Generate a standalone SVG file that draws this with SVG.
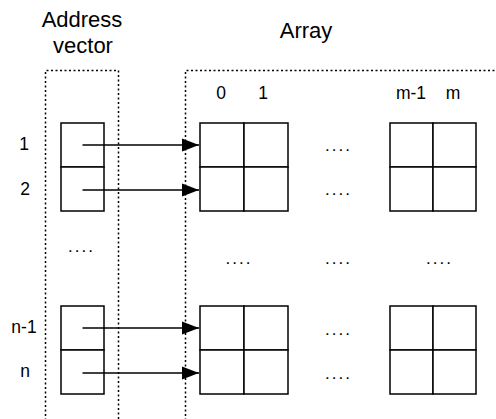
<svg xmlns="http://www.w3.org/2000/svg" width="496" height="419" viewBox="0 0 496 419">
<defs>
<style>
.t{font-family:"Liberation Sans",Arial,sans-serif;fill:#000;text-anchor:middle}
.h{font-size:22px}
.l{font-size:17.5px}
.e{font-family:"Liberation Sans",Arial,sans-serif;font-size:17px;letter-spacing:2px;fill:#000}
.cell{fill:#fff;stroke:#000;stroke-width:1.5}
.dot{fill:none;stroke:#000;stroke-width:1.5;stroke-dasharray:2 2.5}
.arr{stroke:#000;stroke-width:1.5;fill:none;marker-end:url(#ah)}
</style>
<marker id="ah" markerWidth="18" markerHeight="14" refX="17" refY="7" orient="auto" markerUnits="userSpaceOnUse">
<path d="M0,0.5 L17,7 L0,13.5 Z" fill="#000"/>
</marker>
</defs>
<rect width="496" height="419" fill="#fff"/>
<g id="titles">
<text class="t h" x="82" y="27">Address</text>
<text class="t h" x="83" y="53">vector</text>
<text class="t h" x="306" y="38">Array</text>
</g>
<g id="address-vector-frame">
<path class="dot" d="M45.5,425 V70.5 H118.5 V425"/>
</g>
<g id="array-frame">
<path class="dot" d="M185.5,425 V70.5 H500"/>
</g>
<g id="col-labels">
<text class="t l" x="221" y="99">0</text>
<text class="t l" x="263" y="99">1</text>
<text class="t l" x="411" y="99">m-1</text>
<text class="t l" x="453" y="99">m</text>
</g>
<g id="row-labels">
<text class="t l" x="24" y="150">1</text>
<text class="t l" x="25" y="195">2</text>
<text class="t l" x="24" y="333">n-1</text>
<text class="t l" x="25" y="377">n</text>
</g>
<g id="addr-top">
<rect class="cell" x="61" y="123" width="43" height="44"/>
<rect class="cell" x="61" y="167" width="43" height="44"/>
</g>
<g id="addr-bottom">
<rect class="cell" x="61" y="306" width="43" height="44"/>
<rect class="cell" x="61" y="350" width="43" height="44"/>
</g>
<g id="array-top-left">
<rect class="cell" x="200" y="123" width="44" height="44"/>
<rect class="cell" x="244" y="123" width="44" height="44"/>
<rect class="cell" x="200" y="167" width="44" height="44"/>
<rect class="cell" x="244" y="167" width="44" height="44"/>
</g>
<g id="array-top-right">
<rect class="cell" x="390" y="123" width="43" height="44"/>
<rect class="cell" x="433" y="123" width="43" height="44"/>
<rect class="cell" x="390" y="167" width="43" height="44"/>
<rect class="cell" x="433" y="167" width="43" height="44"/>
</g>
<g id="array-bottom-left">
<rect class="cell" x="200" y="306" width="44" height="44"/>
<rect class="cell" x="244" y="306" width="44" height="44"/>
<rect class="cell" x="200" y="350" width="44" height="44"/>
<rect class="cell" x="244" y="350" width="44" height="44"/>
</g>
<g id="array-bottom-right">
<rect class="cell" x="390" y="306" width="43" height="44"/>
<rect class="cell" x="433" y="306" width="43" height="44"/>
<rect class="cell" x="390" y="350" width="43" height="44"/>
<rect class="cell" x="433" y="350" width="43" height="44"/>
</g>
<g id="ellipses">
<text class="e" x="68" y="252">....</text>
<text class="e" x="225.5" y="264">....</text>
<text class="e" x="325" y="264">....</text>
<text class="e" x="426" y="264">....</text>
<text class="e" x="325" y="151">....</text>
<text class="e" x="325" y="195">....</text>
<text class="e" x="325" y="335">....</text>
<text class="e" x="325" y="379">....</text>
</g>
<g id="connectors">
<line class="arr" x1="82.5" y1="145" x2="199" y2="145"/>
<line class="arr" x1="82.5" y1="190" x2="199" y2="190"/>
<line class="arr" x1="82.5" y1="328" x2="199" y2="328"/>
<line class="arr" x1="82.5" y1="373" x2="199" y2="373"/>
</g>
</svg>
